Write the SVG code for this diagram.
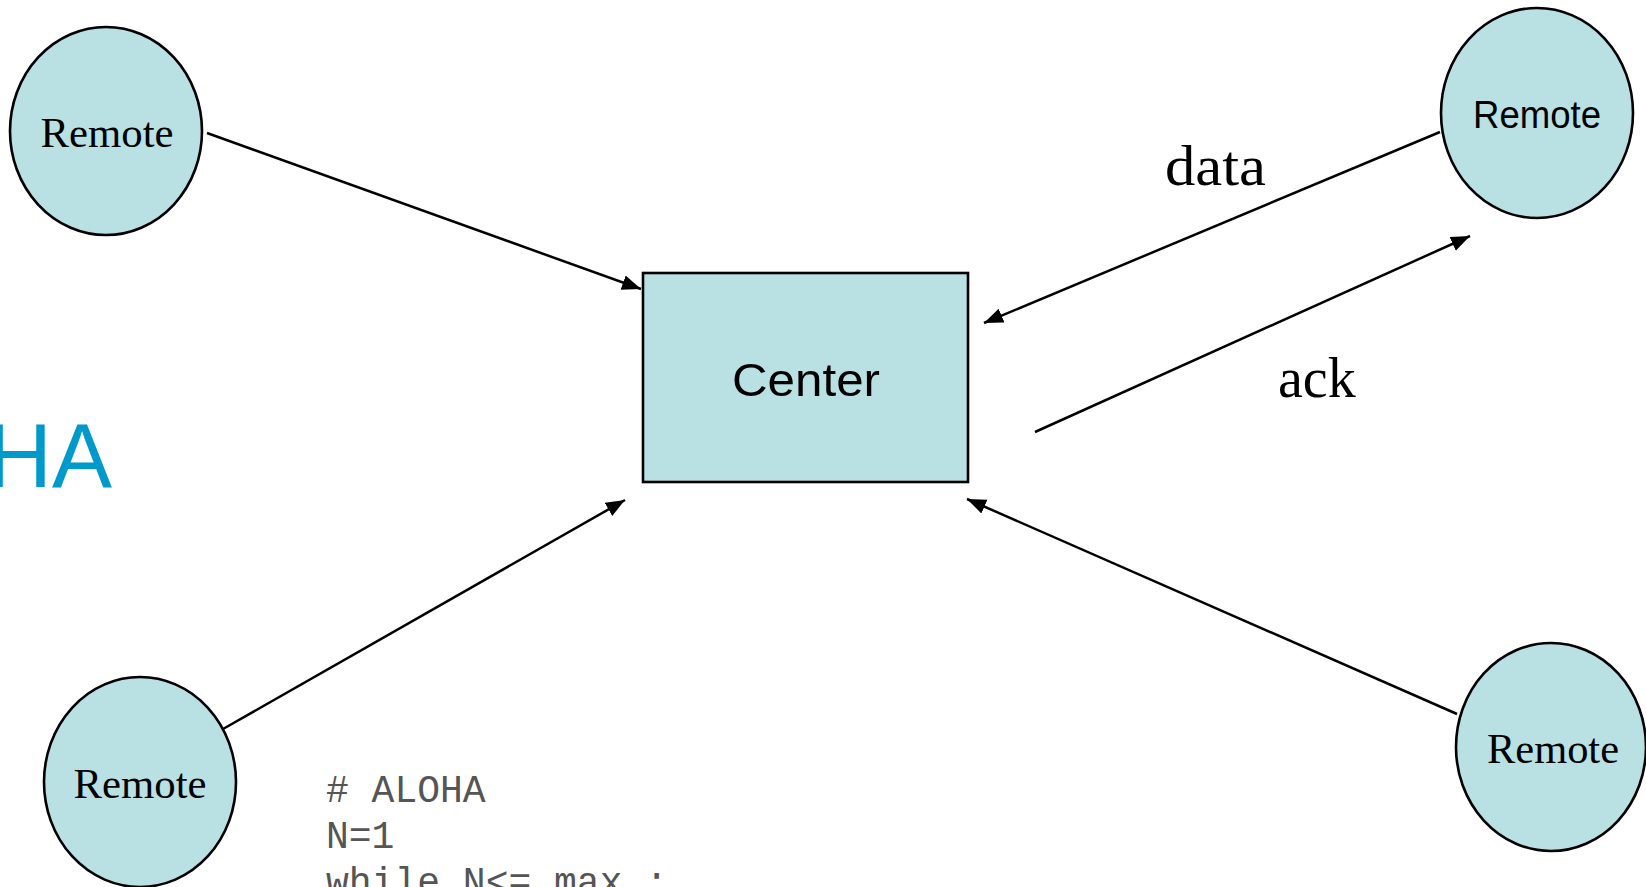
<svg xmlns="http://www.w3.org/2000/svg" width="1646" height="887" viewBox="0 0 1646 887">
  <style>
    .node { fill: #b9e0e3; stroke: #000; stroke-width: 2.6; }
    .serif { font-family: "Liberation Serif", "DejaVu Serif", serif; fill: #000; }
    .sans { font-family: "Liberation Sans", Arial, sans-serif; fill: #000; }
    .link { stroke: #000; stroke-width: 2.5; fill: none; marker-end: url(#arrow); }
    .code { font-family: "Liberation Mono", "Courier New", monospace; font-size: 38px; fill: #555; }
  </style>
  <defs>
    <marker id="arrow" markerUnits="userSpaceOnUse" markerWidth="20" markerHeight="16" refX="19" refY="7.5" orient="auto">
      <path d="M0,0 L19,7.5 L0,15 z" fill="#000"/>
    </marker>
  </defs>

  <rect width="1646" height="887" fill="#fff"/>

  <!-- slide title fragment -->
  <text x="112" y="487" text-anchor="end" font-family="Liberation Sans, Arial, sans-serif" font-size="90" fill="#0099cc">HA</text>

  <!-- connectors -->
  <g id="connectors">
    <line class="link" x1="207" y1="133" x2="641" y2="289"/>
    <line class="link" x1="1440" y1="132" x2="984" y2="323"/>
    <line class="link" x1="1035" y1="432" x2="1470" y2="236"/>
    <line class="link" x1="1457" y1="714" x2="967" y2="499"/>
    <line class="link" x1="223" y1="729" x2="625" y2="500"/>
  </g>

  <!-- labels -->
  <text class="serif" x="1165" y="185" font-size="58" textLength="101" lengthAdjust="spacingAndGlyphs">data</text>
  <text class="serif" x="1278" y="397" font-size="56">ack</text>

  <g id="center">
    <rect class="node" x="643" y="273" width="325" height="209"/>
    <text class="sans" x="806" y="396" font-size="47" text-anchor="middle" textLength="148" lengthAdjust="spacingAndGlyphs">Center</text>
  </g>

  <g id="remote-top-left">
    <ellipse class="node" cx="106" cy="131" rx="96" ry="104"/>
    <text class="serif" x="107" y="147" font-size="42" text-anchor="middle" textLength="133" lengthAdjust="spacingAndGlyphs">Remote</text>
  </g>

  <g id="remote-top-right">
    <ellipse class="node" cx="1537" cy="113" rx="96" ry="105"/>
    <text class="sans" x="1537" y="128" font-size="38" text-anchor="middle" textLength="128" lengthAdjust="spacingAndGlyphs">Remote</text>
  </g>

  <g id="remote-bottom-left">
    <ellipse class="node" cx="140" cy="782" rx="96" ry="105"/>
    <text class="serif" x="140" y="798" font-size="42" text-anchor="middle" textLength="133" lengthAdjust="spacingAndGlyphs">Remote</text>
  </g>

  <g id="remote-bottom-right">
    <ellipse class="node" cx="1551" cy="747" rx="95" ry="104"/>
    <text class="serif" x="1553" y="763" font-size="42" text-anchor="middle" textLength="132" lengthAdjust="spacingAndGlyphs">Remote</text>
  </g>

  <!-- code listing -->
  <g id="code">
    <text class="code" x="326" y="802"># ALOHA</text>
    <text class="code" x="326" y="848">N=1</text>
    <text class="code" x="326" y="894">while N&lt;= max :</text>
  </g>
</svg>
